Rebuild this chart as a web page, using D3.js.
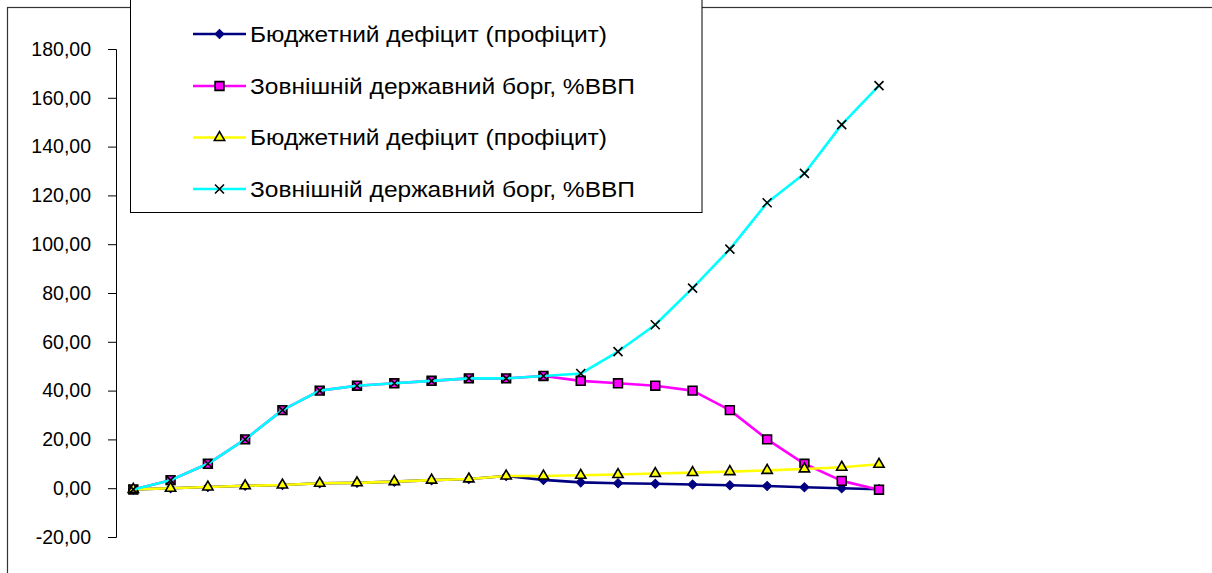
<!DOCTYPE html>
<html>
<head>
<meta charset="utf-8">
<script src="https://cdn.jsdelivr.net/npm/d3@7"></script>
<style>
  html, body { margin: 0; padding: 0; background: #fff; }
  svg { display: block; font-family: "Liberation Sans", Arial, sans-serif; }
</style>
</head>
<body>
<svg id="chart" width="1212" height="573"></svg>
<script>
// Periods along the horizontal axis (not labelled on the chart)
const periods = d3.range(1, 22);

// Series values
const deficitA = [-0.5, 0, 0.5, 1, 1.3, 2, 2.2, 2.7, 3.3, 3.8, 5, 3.4, 2.4, 2, 1.8, 1.5, 1.2, 0.9, 0.4, 0, -0.4];
const debtA    = [-0.5, 3.3, 10, 20, 32, 40, 42, 43, 44, 45, 45, 46, 44, 43, 42, 40, 32, 20, 10, 3, -0.6];
const deficitB = [-0.5, 0, 0.5, 1, 1.3, 2, 2.2, 2.7, 3.3, 3.8, 5, 5, 5.3, 5.6, 6, 6.4, 6.8, 7.3, 7.9, 8.6, 9.8];
const debtB    = [-0.5, 3.3, 10, 20, 32, 40, 42, 43, 44, 45, 45, 46, 47, 56, 67, 82, 98, 117, 129, 149, 165];

const seriesNames = [
  "Бюджетний дефіцит (профіцит)",
  "Зовнішній державний борг, %ВВП",
  "Бюджетний дефіцит (профіцит)",
  "Зовнішній державний борг, %ВВП"
];

const yTicks = [-20, 0, 20, 40, 60, 80, 100, 120, 140, 160, 180];

const svg = d3.select("#chart");

// outer chart frame
svg.append("rect")
  .attr("x", 7.5).attr("y", 7.5)
  .attr("width", 1300).attr("height", 700)
  .attr("fill", "none").attr("stroke", "#333").attr("stroke-width", 1.2);

const x = d3.scalePoint().domain(periods).range([133.3, 879]);
const y = d3.scaleLinear().domain([-20, 180]).range([537, 49]);

// value axis
const yAxis = svg.append("g")
  .attr("transform", "translate(116,0)")
  .call(d3.axisLeft(y)
    .tickValues(yTicks)
    .tickSize(8)
    .tickSizeOuter(8)
    .tickPadding(17)
    .tickFormat(d => d.toFixed(2).replace(".", ",")));
yAxis.selectAll("path, line").attr("stroke", "#000").attr("stroke-width", 1);
yAxis.selectAll("text")
  .attr("font-size", "19.5px")
  .attr("fill", "#000")
  .attr("font-family", "'Liberation Sans', Arial, sans-serif");

// marker shapes
const diamondPath = d3.symbol().type(d3.symbolSquare).size(42)();
const squarePath = d3.symbol().type(d3.symbolSquare).size(78)();
const trianglePath = d3.symbol().type(d3.symbolTriangle).size(46)();
const crossPath = "M-4.5,-4.5L4.5,4.5M-4.5,4.5L4.5,-4.5";

const series = [
  { name: seriesNames[0], values: deficitA, color: "#000080",
    marker: g => g.append("path").attr("d", diamondPath).attr("transform", "rotate(45)")
      .attr("fill", "#000080").attr("stroke", "#000080").attr("stroke-width", 1) },
  { name: seriesNames[1], values: debtA, color: "#FF00FF",
    marker: g => g.append("path").attr("d", squarePath)
      .attr("fill", "#FF00FF").attr("stroke", "#000").attr("stroke-width", 1.6) },
  { name: seriesNames[2], values: deficitB, color: "#FFFF00",
    marker: g => g.append("path").attr("d", trianglePath)
      .attr("fill", "#FFFF00").attr("stroke", "#000").attr("stroke-width", 1.6) },
  { name: seriesNames[3], values: debtB, color: "#00FFFF",
    marker: g => g.append("path").attr("d", crossPath)
      .attr("fill", "none").attr("stroke", "#000").attr("stroke-width", 1.6) }
];

const line = d3.line()
  .x((d, i) => x(periods[i]))
  .y(d => y(d));

// each series: line then its markers
series.forEach(s => {
  const g = svg.append("g");
  g.append("path")
    .attr("d", line(s.values))
    .attr("fill", "none")
    .attr("stroke", s.color)
    .attr("stroke-width", 2.6)
    .attr("stroke-linejoin", "round");
  s.values.forEach((v, i) => {
    const m = g.append("g").attr("transform", `translate(${x(periods[i])},${y(v)})`);
    s.marker(m);
  });
});

// legend
const legend = svg.append("g");
legend.append("rect")
  .attr("x", 130.5).attr("y", -2)
  .attr("width", 571.5).attr("height", 214.5)
  .attr("fill", "#fff").attr("stroke", "#000").attr("stroke-width", 1);

const rowY = [34, 86, 137.5, 189];
const textWidths = [357, 385, 357, 385];
series.forEach((s, i) => {
  const row = legend.append("g").attr("transform", `translate(0,${rowY[i]})`);
  row.append("line")
    .attr("x1", 193).attr("x2", 246)
    .attr("stroke", s.color).attr("stroke-width", 2.6);
  const m = row.append("g").attr("transform", "translate(219.5,0)");
  s.marker(m);
  row.append("text")
    .attr("x", 250).attr("y", 0)
    .attr("dy", "0.36em")
    .attr("font-size", "22px")
    .attr("fill", "#000")
    .attr("textLength", textWidths[i])
    .attr("lengthAdjust", "spacingAndGlyphs")
    .text(s.name);
});
</script>
</body>
</html>
